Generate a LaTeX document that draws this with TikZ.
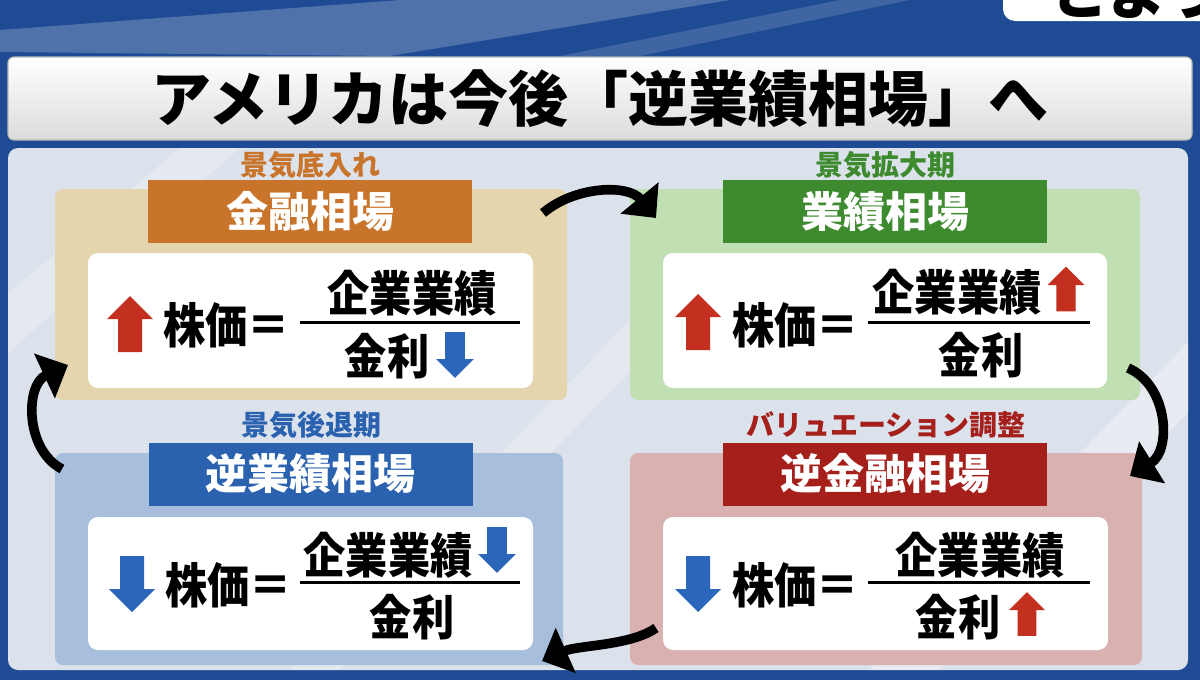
\documentclass[tikz,border=0pt]{standalone}
\usepackage{fontspec}
\newfontfamily\jp{Noto Sans CJK JP}
\newfontfamily\jpnarrow[FakeStretch=0.88]{Noto Sans CJK JP}
\usetikzlibrary{arrows.meta}
\definecolor{bgblue}{HTML}{1E4B94}
\definecolor{panelbg}{HTML}{DCE2EC}
\definecolor{tanpanel}{HTML}{E5D5AE}
\definecolor{greenpanel}{HTML}{C0DFB3}
\definecolor{bluepanel}{HTML}{A7BEDC}
\definecolor{pinkpanel}{HTML}{DAB1B1}
\definecolor{orangehead}{HTML}{C9742B}
\definecolor{greenhead}{HTML}{3E8A2F}
\definecolor{bluehead}{HTML}{2A62B0}
\definecolor{redhead}{HTML}{A51F1B}
\definecolor{arrred}{HTML}{C4301F}
\definecolor{arrblue}{HTML}{2B66BA}
\tikzset{
  panel/.style={fill=#1,rounded corners=4pt},
  whitebox/.style={fill=white,rounded corners=5pt},
  titlebar/.style={draw=gray!55,line width=0.6pt,top color=white,bottom color=gray!28,rounded corners=3pt,minimum width=592pt,minimum height=41.5pt,inner sep=0pt,font=\jp\bfseries\fontsize{30pt}{30pt}\selectfont},
  header/.style={fill=#1,text=white,minimum width=162pt,minimum height=31.5pt,inner sep=0pt,font=\jp\bfseries\fontsize{21pt}{21pt}\selectfont},
  phase/.style={text=#1,inner sep=0pt,font=\jp\bfseries\fontsize{14pt}{14pt}\selectfont},
  eq/.style={inner sep=0pt,text=black,font=\jpnarrow\bfseries\fontsize{24pt}{24pt}\selectfont},
  fracline/.style={line width=1.5pt,draw=black},
  cycarrow/.style={-{Triangle[length=13pt,width=24pt]},line width=4.8pt,draw=black},
  pics/upA/.style={code={\fill[#1] (-12,28) -- (-12,-5) -- (-23,-5) -- (0,-28) -- (23,-5) -- (12,-5) -- (12,28) -- cycle;}},
  pics/downA/.style={code={\fill[#1] (-12,-28) -- (-12,5) -- (-23,5) -- (0,28) -- (23,5) -- (12,5) -- (12,-28) -- cycle;}}
}
\begin{document}
\begin{tikzpicture}[x=0.5pt,y=-0.5pt]
  \useasboundingbox (0,0) rectangle (1200,680);
  \clip (0,0) rectangle (1200,680);
  % backdrop
  \fill[bgblue] (0,0) rectangle (1200,680);
  \fill[white,opacity=0.22] (0,52) -- (390,56) -- (730,0) -- (400,0) -- (0,30) -- cycle;
  \fill[white,opacity=0.15] (560,56) -- (640,56) -- (910,0) -- (840,0) -- cycle;
  \fill[white,rounded corners=6pt] (1003,-20) rectangle (1215,21);
  \node[anchor=base west,inner sep=0pt,font=\jp\bfseries\fontsize{29pt}{29pt}\selectfont] (tab) at (1050,14) {とよう};

  % title
  \node[titlebar] (title) at (600,98.5) {アメリカは今後「逆業績相場」へ};

  % main panel
  \fill[panelbg,rounded corners=5pt] (8,148) rectangle (1188,670);
  \begin{scope}
    \clip[rounded corners=5pt] (8,148) rectangle (1188,670);
    \fill[white,opacity=0.35] (860,680) -- (930,680) -- (1200,400) -- (1200,330) -- cycle;
    \fill[white,opacity=0.25] (280,680) -- (330,680) -- (700,300) -- (650,300) -- cycle;
    \fill[white,opacity=0.25] (0,300) -- (0,360) -- (240,148) -- (180,148) -- cycle;
  \end{scope}

  % four quadrants
  \fill[panel=tanpanel] (55,189) rectangle (567,400);
  \fill[panel=greenpanel] (630,189) rectangle (1140,400);
  \fill[panel=bluepanel] (55,453) rectangle (563,665);
  \fill[panel=pinkpanel] (630,453) rectangle (1142,665);
  \fill[whitebox] (88,253) rectangle (533,388);
  \fill[whitebox] (663,253) rectangle (1107,388);
  \fill[whitebox] (88,517) rectangle (533,650);
  \fill[whitebox] (663,517) rectangle (1108,650);

  \node[phase=orangehead] (finPhase) at (310,165) {景気底入れ};
  \node[header=orangehead] (finHead) at (310,211.5) {金融相場};
  \node[phase=greenhead] (growPhase) at (885,165) {景気拡大期};
  \node[header=greenhead] (growHead) at (885,211.5) {業績相場};
  \node[phase=bluehead] (recPhase) at (311,425) {景気後退期};
  \node[header=bluehead] (recHead) at (310.5,474) {逆業績相場};
  \node[phase=redhead] (adjPhase) at (886,425) {バリュエーション調整};
  \node[header=redhead] (adjHead) at (885,474) {逆金融相場};

  % formulas
  \pic at (130,324) {upA=arrred};
  \node[eq,anchor=west] (finPrice) at (163,325) {株価＝};
  \draw[fracline] (300,322) -- (520,322);
  \node[eq] (finNum) at (412,293) {企業業績};
  \node[eq] (finDen) at (387,356) {金利};
  \pic[scale=0.82] at (455,355) {downA=arrblue};

  \pic at (698,322) {upA=arrred};
  \node[eq,anchor=west] (growPrice) at (732,325) {株価＝};
  \draw[fracline] (868,322) -- (1090,322);
  \node[eq] (growNum) at (957,292) {企業業績};
  \pic[scale=0.8] at (1066,289) {upA=arrred};
  \node[eq] (growDen) at (981,355) {金利};

  \pic at (132,584) {downA=arrblue};
  \node[eq,anchor=west] (recPrice) at (165,585) {株価＝};
  \draw[fracline] (300,582) -- (520,582);
  \node[eq] (recNum) at (388,555) {企業業績};
  \pic[scale=0.82] at (497,550) {downA=arrblue};
  \node[eq] (recDen) at (412,617) {金利};

  \pic at (698,584) {downA=arrblue};
  \node[eq,anchor=west] (adjPrice) at (732,585) {株価＝};
  \draw[fracline] (868,582) -- (1090,582);
  \node[eq] (adjNum) at (980,555) {企業業績};
  \node[eq] (adjDen) at (958,617) {金利};
  \pic[scale=0.78] at (1027,614) {upA=arrred};

  % cycle arrows
  \coordinate (topA) at (543,213);
  \coordinate (topB) at (656,218);
  \coordinate (rightA) at (1128,368);
  \coordinate (rightB) at (1130,476);
  \coordinate (botA) at (656,628);
  \coordinate (botB) at (542,661);
  \coordinate (leftA) at (62,469);
  \coordinate (leftB) at (68,365);
  \draw[cycarrow] (topA) .. controls (575,186) and (628,184) .. (topB);
  \draw[cycarrow] (rightA) .. controls (1168,385) and (1172,450) .. (rightB);
  \draw[cycarrow] (botA) .. controls (630,646) and (578,645) .. (botB);
  \draw[cycarrow] (leftA) .. controls (25,450) and (25,385) .. (leftB);
\end{tikzpicture}
\end{document}
